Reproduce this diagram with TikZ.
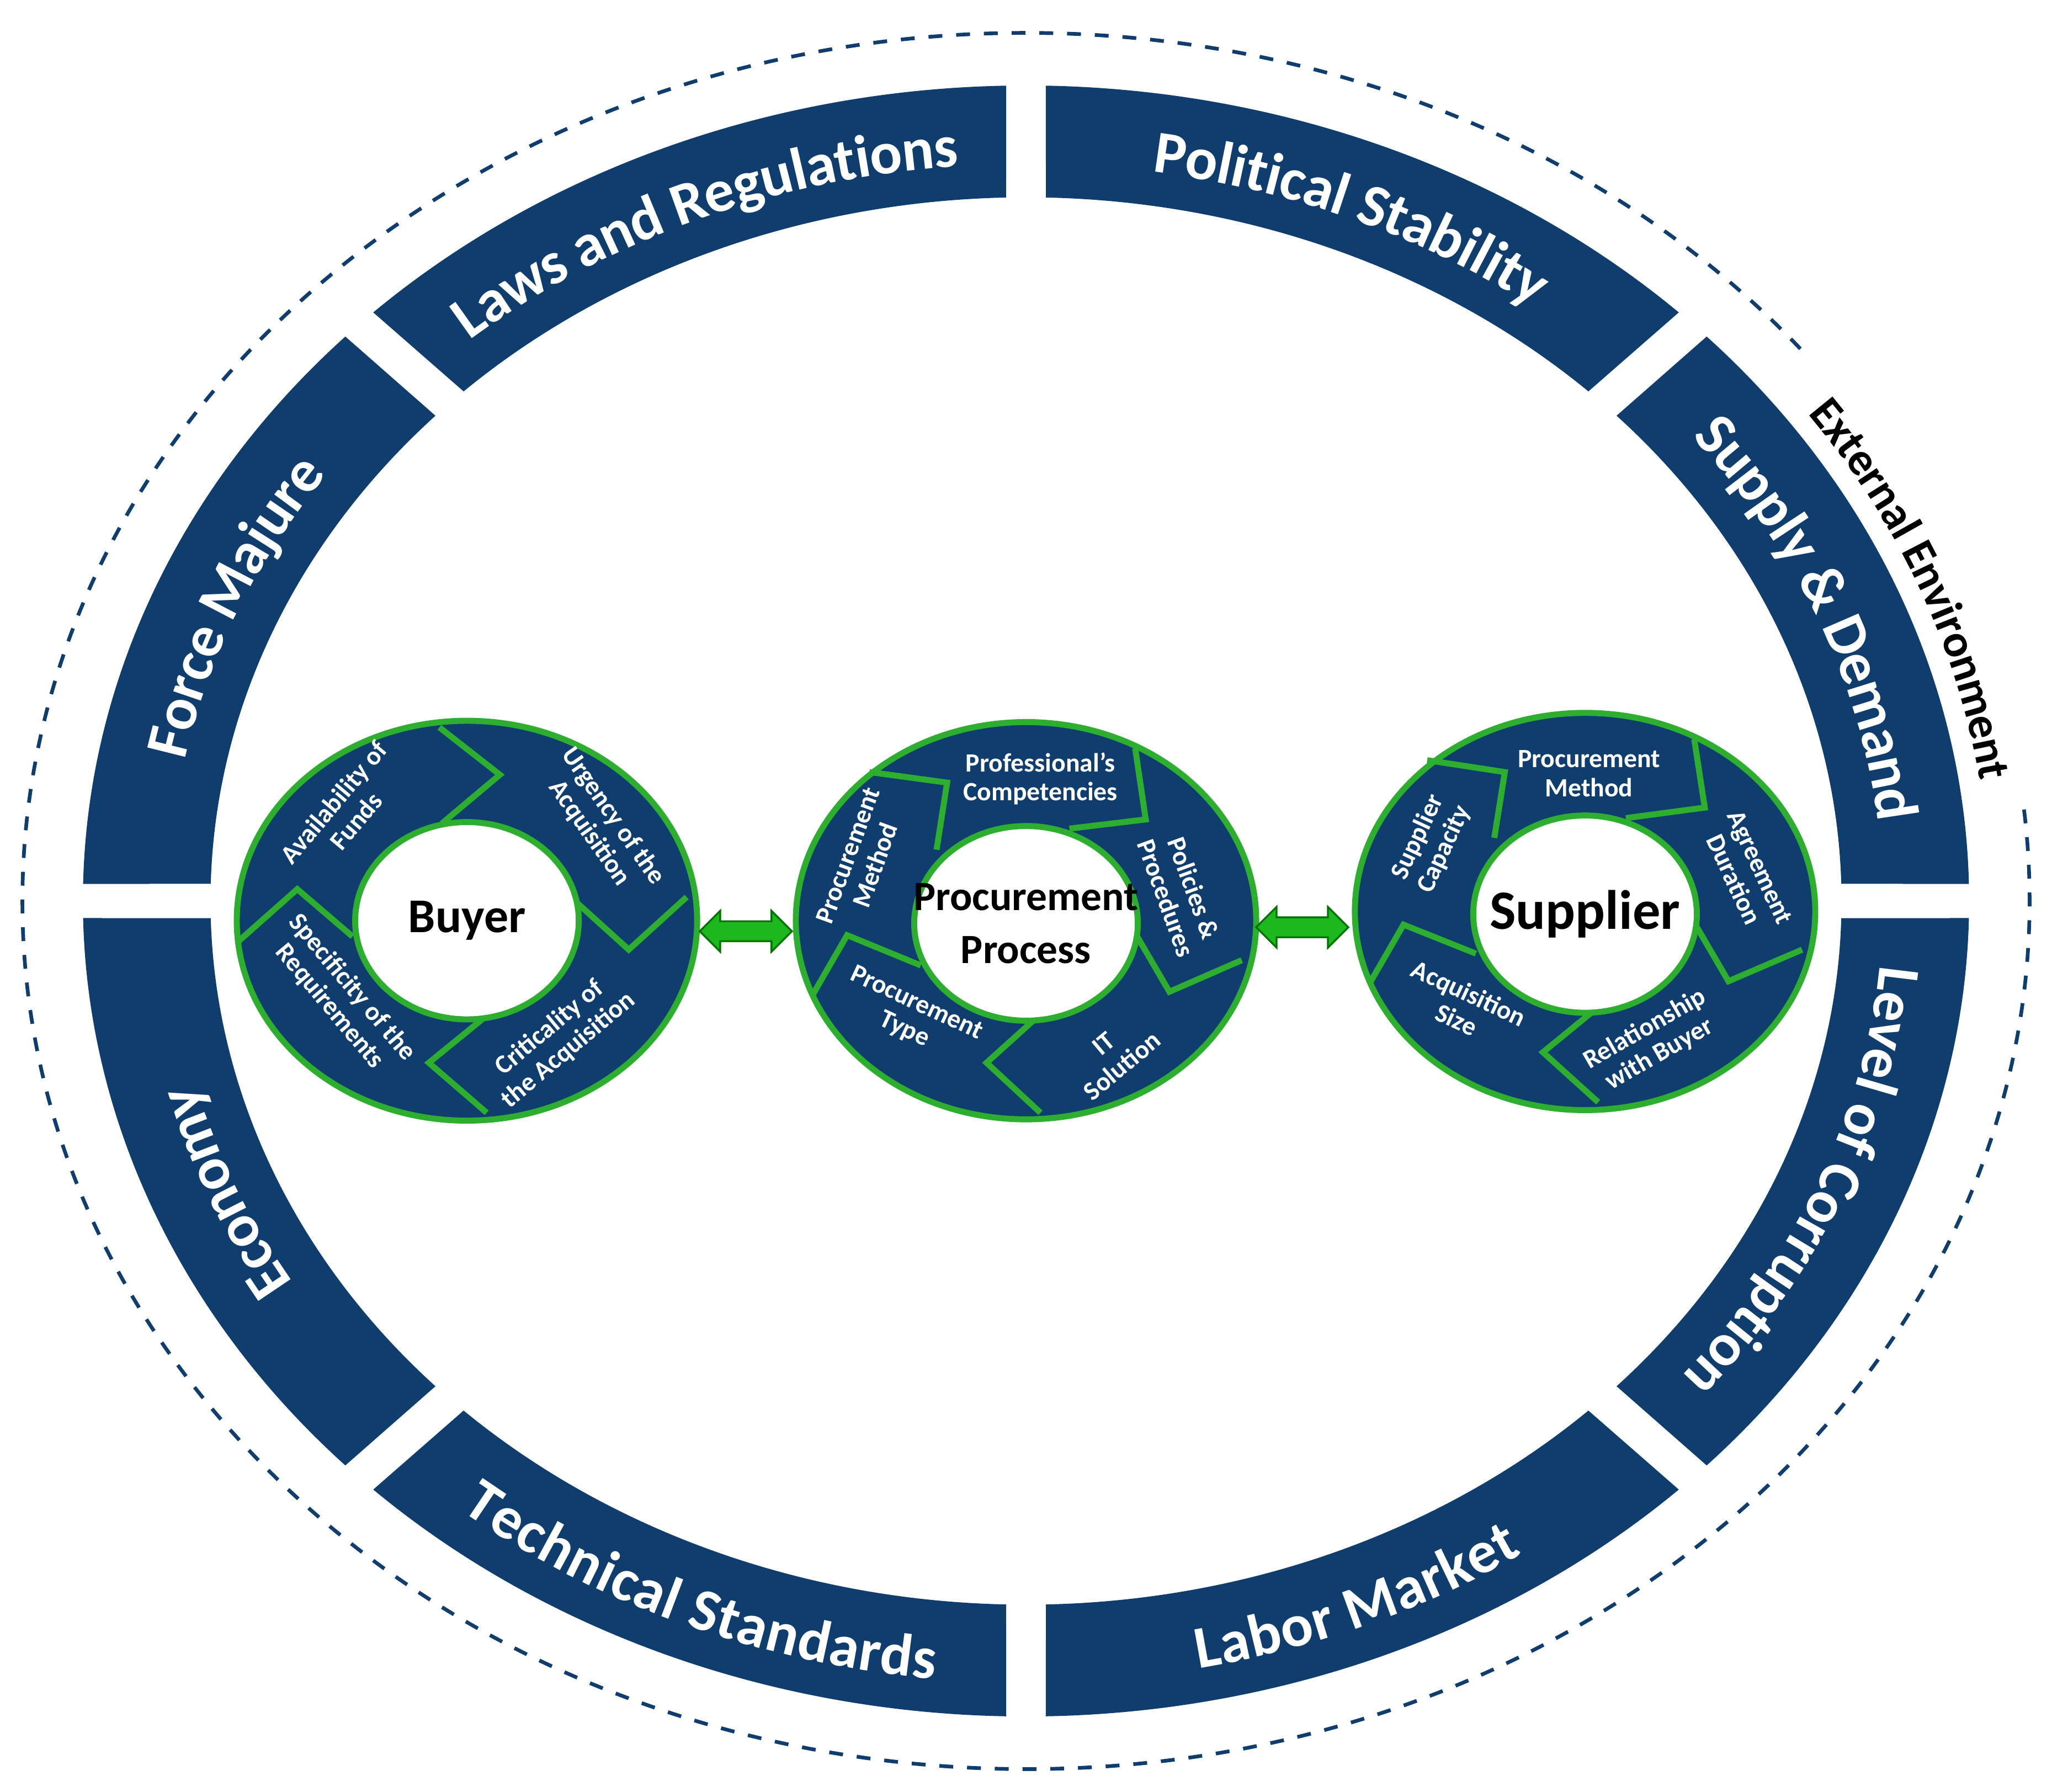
\documentclass[tikz,border=0pt]{standalone}
\usepackage{fontspec}
\setmainfont{Carlito}
\usetikzlibrary{calc,decorations.text,shapes.arrows}
\definecolor{ringblue}{HTML}{0F3D6E}
\definecolor{ringgreen}{HTML}{2EAE2E}
\definecolor{arrowgreen}{HTML}{1DB81D}
\newcommand\outerfont{\bfseries\fontsize{13}{14}\selectfont\color{white}}
% one band of the outer ring, between two angles
\newcommand\bandseg[2]{\fill[band] ($(O)+({#1+1.2}:71.7mm and 62mm)$) arc[start angle={#1+1.2}, end angle={#2-1.2}, x radius=71.7mm, y radius=62mm] -- ($(O)+({#2-1.4}:62mm and 53.5mm)$) arc[start angle={#2-1.4}, end angle={#1+1.4}, x radius=62mm, y radius=53.5mm] -- cycle;}
% label written along the middle of a band
\newcommand\bandlabel[3]{\path[decorate, decoration={text along path, text align=center, raise=-1.7mm, text={|\outerfont|#3}}] ($(O)+(#1:66.85mm and 57.75mm)$) arc[start angle=#1, end angle=#2, x radius=66.85mm, y radius=57.75mm];}
\tikzset{
  band/.style={fill=ringblue},
  wheel/.style={fill=ringblue, draw=ringgreen, line width=1.3pt},
  hub/.style={fill=white, draw=ringgreen, line width=1.3pt},
  divider/.style={draw=ringgreen, line width=1.3pt, line join=miter},
  factor/.style={text=white, font=\bfseries\fontsize{5.7}{6.3}\selectfont, align=center, inner sep=0pt},
  core/.style={font=\bfseries\fontsize{10.5}{12.5}\selectfont, align=center, inner sep=0pt},
  link/.style={double arrow, fill=arrowgreen, draw=green!45!black, line width=0.4pt, minimum height=7mm, minimum width=3.1mm, double arrow head extend=0.7mm, inner sep=0.6mm}
}
\begin{document}
\begin{tikzpicture}[x=0.1mm, y=0.1mm]
\useasboundingbox (0,0) rectangle (1560,1362);
\coordinate (O) at (780,677);
% outer ring
\foreach \a in {0,45,...,315} {\bandseg{\a}{\a+45}}
\bandlabel{178}{136}{Force Majure}
\bandlabel{133}{92}{Laws and Regulations}
\bandlabel{88}{47}{Political Stability}
\bandlabel{43}{2}{Supply {\&} Demand}
\bandlabel{-2}{-43}{Level of Corruption}
\bandlabel{227}{268}{Technical Standards}
\bandlabel{272}{313}{Labor Market}
\bandlabel{223}{182}{Economy}
\draw[ringblue, dashed, line width=0.8pt] ($(O)+(39.5:76.3mm and 66mm)$) arc[start angle=39.5, end angle=366.5, x radius=76.3mm, y radius=66mm];
\path[decorate, decoration={text along path, text align=center, raise=-1mm, text={|\bfseries\fontsize{10}{10}\selectfont|External Environment}}] ($(O)+(39:74.3mm and 64.3mm)$) arc[start angle=39, end angle=5, x radius=74.3mm, y radius=64.3mm];
% buyer wheel
\draw[wheel] (355,662) ellipse [x radius=17.5mm, y radius=15.2mm];
\draw[divider] (334,809) -- (380,773) -- (336,736);
\draw[divider] (522,680) -- (478,640) -- (436,678);
\draw[divider] (369,589) -- (326,554) -- (370,516);
\draw[divider] (182,647) -- (226,686) -- (268,650);
\draw[hub] (355,662) ellipse [x radius=8.5mm, y radius=7.5mm];
\node[core] (buyer) at (355,662) {Buyer};
\node[factor, rotate=50] (funds) at (262,745) {Availability of\\Funds};
\node[factor, rotate=-55] (urgency) at (457,735) {Urgency of the\\Acquisition};
\node[factor, rotate=40] (critical) at (425,572) {Criticality of\\the Acquisition};
\node[factor, rotate=-50] (specific) at (259,604) {Specificity of the\\Requirements};
% procurement process wheel
\draw[wheel] (780,662) ellipse [x radius=17.5mm, y radius=15.1mm];
\draw[divider] (661,775) -- (720,767) -- (712,716);
\draw[divider] (863,793) -- (871,739) -- (813,732);
\draw[divider] (944,632) -- (889,608) -- (861,656);
\draw[divider] (791,516) -- (750,554) -- (791,591);
\draw[divider] (618,606) -- (644,651) -- (700,628);
\draw[hub] (780,660) ellipse [x radius=8.5mm, y radius=7.4mm];
\node[core, font=\bfseries\fontsize{9}{11.5}\selectfont] (process) at (780,660) {Procurement\\Process};
\node[factor] (skills) at (791,770) {Professional’s\\Competencies};
\node[factor, rotate=-70] (policies) at (897,683) {Policies \&\\Procedures};
\node[factor, rotate=40] (itsol) at (846,560) {IT\\Solution};
\node[factor, rotate=-25] (ptype) at (692,589) {Procurement\\Type};
\node[factor, rotate=70] (pmethod) at (655,708) {Procurement\\Method};
% supplier wheel
\draw[wheel] (1205,669) ellipse [x radius=17.5mm, y radius=15.1mm];
\draw[divider] (1085,784) -- (1144,775) -- (1136,725);
\draw[divider] (1288,800) -- (1296,748) -- (1236,740);
\draw[divider] (1370,640) -- (1314,616) -- (1286,664);
\draw[divider] (1215,524) -- (1173,562) -- (1217,598);
\draw[divider] (1041,614) -- (1067,659) -- (1122,637);
\draw[hub] (1205,667) ellipse [x radius=8.5mm, y radius=7.5mm];
\node[core, font=\bfseries\fontsize{12}{12}\selectfont] (supplier) at (1205,667) {Supplier};
\node[factor] (smethod) at (1208,774) {Procurement\\Method};
\node[factor, rotate=-65] (duration) at (1328,698) {Agreement\\Duration};
\node[factor, rotate=30] (relation) at (1256,570) {Relationship\\with Buyer};
\node[factor, rotate=-25] (size) at (1112,597) {Acquisition\\Size};
\node[factor, rotate=65] (capacity) at (1088,721) {Supplier\\Capacity};
% links between the wheels
\node[link] (left) at (567,654) {};
\node[link] (right) at (990,657) {};
\end{tikzpicture}
\end{document}
